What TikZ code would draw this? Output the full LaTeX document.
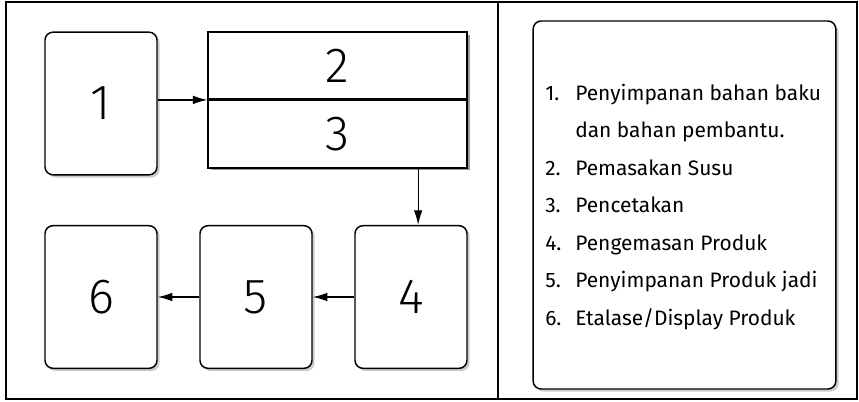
\documentclass[tikz,border=0pt]{standalone}
\usepackage{fontspec}
\setmainfont{Fira Sans}
\newfontfamily\lightfont{Fira Sans Light}
\usetikzlibrary{arrows.meta,shadows,calc,positioning}

\begin{document}
\begin{tikzpicture}[x=0.75pt,y=-0.75pt,
    box/.style={draw,line width=1.1pt,fill=white,minimum width=84pt,minimum height=107pt,
        rounded corners=6pt,drop shadow={shadow xshift=2pt,shadow yshift=-2pt,opacity=0.4},
        font=\lightfont\fontsize{37}{37}\selectfont},
    half/.style={draw,line width=1.1pt,fill=white,minimum width=194pt,minimum height=50.5pt,
        font=\lightfont\fontsize{37}{37}\selectfont},
    arr/.style={line width=0.9pt,-{Latex[length=11pt,width=6.5pt]}},
    item/.style={anchor=base west,inner sep=0pt,font=\fontsize{15.7}{15.7}\selectfont}]
\useasboundingbox (0,0) rectangle (859,401);

% frame
\draw[line width=1.8pt] (6,2) rectangle (857,399);
\draw[line width=1.6pt] (498,2) -- (498,399);

% process boxes
\node[box] (b1) at (101,103.5) {1};
\fill[black,opacity=0.4] (210.5,34.5) rectangle (470,170);
\node[half] (b2) at (337.5,65.5) {2};
\node[half,anchor=north] (b3) at (b2.south) {3};
\node[box] (b4) at (411,297) {4};
\node[box] (b5) at (256,297) {5};
\node[box] (b6) at (101,297) {6};

\coordinate (d) at ($(b3.south)!0.62!(b3.south east)$);
\draw[arr] (b1.east |- b2.south west) -- (b2.south west);
\draw[arr] (d) -- (d |- b4.north);
\draw[arr] (b4.west) -- (b5.east);
\draw[arr] (b5.west) -- (b6.east);

% legend
\node[box,minimum width=227pt,minimum height=276pt] (lg) at (684.5,205) {};
\foreach \n/\y/\txt in {1/100/{Penyimpanan bahan baku}, /137.5/{dan bahan pembantu.},
    2/175/{Pemasakan Susu}, 3/212.5/{Pencetakan}, 4/250/{Pengemasan Produk},
    5/287.5/{Penyimpanan Produk jadi}, 6/325/{Etalase/Display Produk}}{
  \node[item] (k\y) at (545,\y) {\n\ifx\n\empty\else.\fi};
  \node[item] (t\y) at (575,\y) {\txt};
}
\end{tikzpicture}
\end{document}
